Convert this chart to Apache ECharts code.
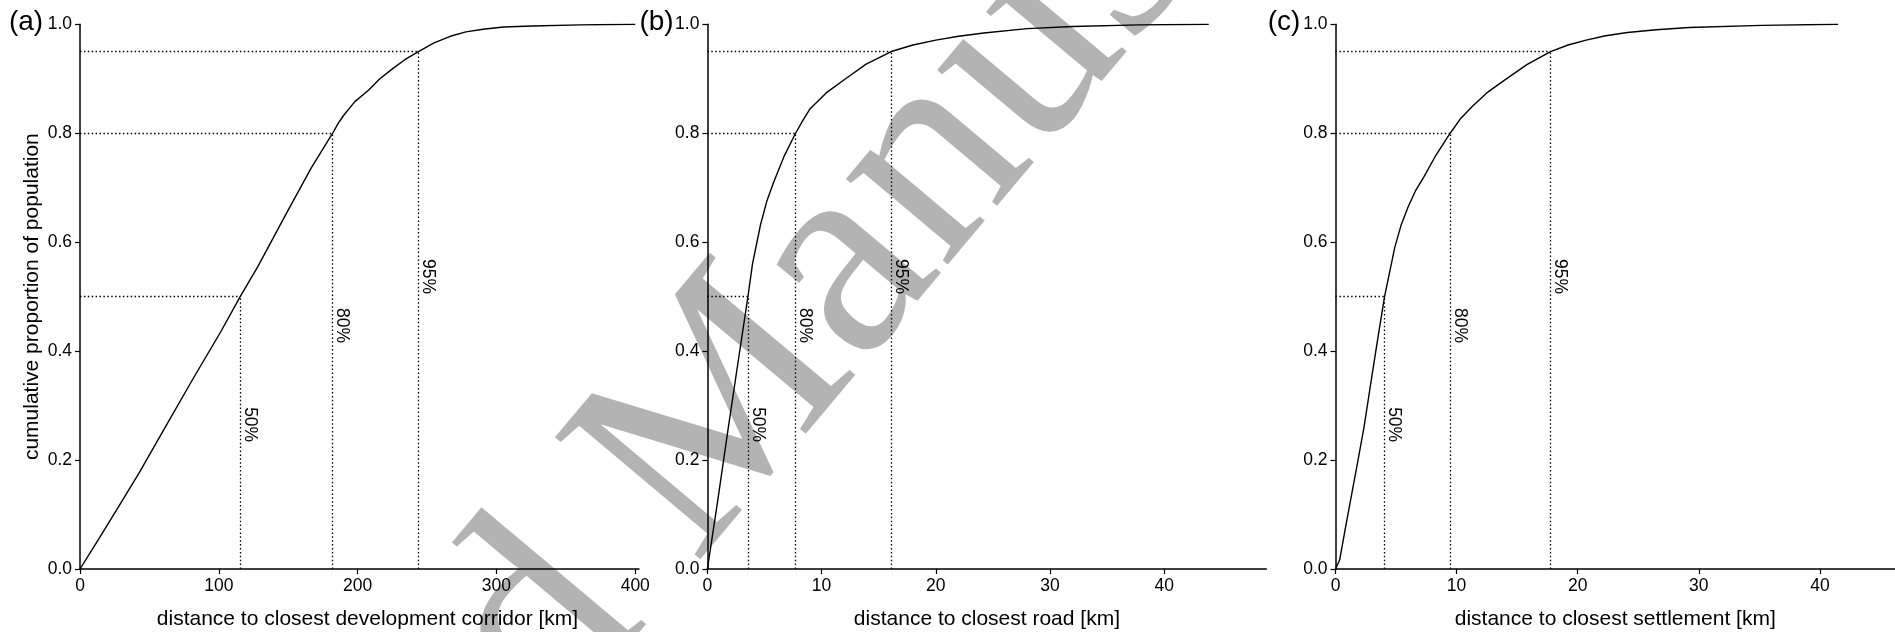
<!DOCTYPE html>
<html><head><meta charset="utf-8">
<script src="https://cdn.jsdelivr.net/npm/echarts@6/dist/echarts.min.js"></script>
<style>html,body{margin:0;padding:0;background:#fff}#c{width:1895px;height:632px}</style>
</head><body><div id="c"></div>
<script>
// ---- data ----
const yTicks = [0, 0.2, 0.4, 0.6, 0.8, 1.0];
const pctLevels = [0.5, 0.8, 0.95];
const pctLabels = ['50%', '80%', '95%'];
const pctLabelY = [0.265, 0.447, 0.537];

const corridorKm = [0, 13, 27.7, 42.5, 60.2, 80.9, 101.5, 115.4, 128.1, 148.7, 166.5, 182, 186, 190, 198, 207.8, 216, 225.5, 234, 243.8, 255, 266.8, 278, 290.4, 305, 325.8, 360, 400];
const corridorCum = [0, 0.053, 0.114, 0.176, 0.255, 0.347, 0.436, 0.5, 0.555, 0.653, 0.736, 0.8, 0.818, 0.833, 0.858, 0.879, 0.9, 0.919, 0.935, 0.95, 0.966, 0.978, 0.986, 0.991, 0.995, 0.997, 0.999, 1.0];
const corridorPct = [115.4, 182, 243.8];
const corridorTicks = [0, 100, 200, 300, 400];

const roadKm = [0, 0.9, 1.8, 2.65, 3.55, 3.95, 4.65, 5.2, 5.8, 6.7, 7.72, 8.4, 9, 10.4, 12.1, 13.9, 16.1, 18, 20, 22, 24.2, 28, 32, 37.8, 43.9];
const roadCum = [0, 0.125, 0.255, 0.375, 0.5, 0.56, 0.632, 0.675, 0.71, 0.757, 0.8, 0.825, 0.845, 0.874, 0.9, 0.927, 0.95, 0.962, 0.971, 0.978, 0.984, 0.992, 0.996, 0.999, 1.0];
const roadPct = [3.57, 7.72, 16.1];
const roadTicks = [0, 10, 20, 30, 40];

const settleKm = [0, 0.34, 0.84, 1.35, 1.86, 2.36, 2.87, 3.54, 4.05, 4.89, 5.4, 6, 6.6, 7.3, 8.3, 9.47, 10.3, 11.29, 12.6, 13.99, 15.8, 17.76, 19.2, 20.7, 22.3, 24.1, 26.5, 29.2, 35.2, 41.5];
const settleCum = [0, 0.0165, 0.078, 0.139, 0.2, 0.261, 0.335, 0.43, 0.5, 0.59, 0.63, 0.665, 0.694, 0.72, 0.76, 0.8, 0.826, 0.849, 0.876, 0.898, 0.926, 0.95, 0.962, 0.971, 0.979, 0.985, 0.99, 0.994, 0.998, 1.0];
const settlePct = [4.05, 9.47, 17.76];
const settleTicks = [0, 10, 20, 30, 40];

const panelTags = ['(a)', '(b)', '(c)'];
const xTitles = ['distance to closest development corridor [km]', 'distance to closest road [km]', 'distance to closest settlement [km]'];
const yTitle = 'cumulative proportion of population';

// ---- layout ----
const FONT = '"Liberation Sans", Arial, Helvetica, sans-serif';
const panels = [
  {x: corridorKm, y: corridorCum, pct: corridorPct, ticks: corridorTicks, max: 402.7, left: 80, width: 559, tagX: 26, titlePad: [0, 0, 0, 16]},
  {x: roadKm, y: roadCum, pct: roadPct, ticks: roadTicks, max: 48.95, left: 707.4, width: 559, tagX: 656.5, titlePad: [0, 0, 0, 0]},
  {x: settleKm, y: settleCum, pct: settlePct, ticks: settleTicks, max: 46.2, left: 1335.5, width: 559.5, tagX: 1284, titlePad: [0, 0, 0, 0]}
];

const grid = [], xAxis = [], yAxis = [], series = [], graphic = [];
const lineCol = '#000';

panels.forEach((p, i) => {
  grid.push({left: p.left, top: 24.3, width: p.width, height: 544.7, containLabel: false, outerBoundsMode: 'none'});
  xAxis.push({
    type: 'value', gridIndex: i, min: 0, max: p.max,
    name: xTitles[i], nameLocation: 'middle', nameGap: 40,
    nameTextStyle: {fontFamily: FONT, fontSize: 21, color: '#000', padding: p.titlePad},
    axisLine: {show: true, onZero: false, lineStyle: {color: lineCol, width: 1.5}},
    axisTick: {show: true, length: 5, inside: false, customValues: p.ticks, lineStyle: {color: lineCol, width: 1.2}},
    axisLabel: {show: true, customValues: p.ticks, margin: 8, fontFamily: FONT, fontSize: 17.5, color: '#000'},
    splitLine: {show: false}
  });
  yAxis.push({
    type: 'value', gridIndex: i, min: 0, max: 1,
    name: i === 0 ? yTitle : '', nameLocation: 'middle', nameGap: 37, nameRotate: 90,
    nameTextStyle: {fontFamily: FONT, fontSize: 21, color: '#000'},
    axisLine: {show: true, onZero: false, lineStyle: {color: lineCol, width: 1.5}},
    axisTick: {show: true, length: 5, inside: false, customValues: yTicks, lineStyle: {color: lineCol, width: 1.2}},
    axisLabel: {show: true, customValues: yTicks, margin: 8, fontFamily: FONT, fontSize: 17.5, color: '#000',
      formatter: v => Number(v).toFixed(1)},
    splitLine: {show: false}
  });
  const ml = [];
  p.pct.forEach((px, k) => {
    ml.push([{coord: [0, pctLevels[k]]}, {coord: [px, pctLevels[k]]}]);
    ml.push([{coord: [px, 0]}, {coord: [px, pctLevels[k]]}]);
  });
  series.push({
    type: 'line', xAxisIndex: i, yAxisIndex: i, z: 3,
    data: p.x.map((v, k) => [v, p.y[k]]),
    symbol: 'none', showSymbol: false, smooth: false,
    lineStyle: {color: '#000', width: 1.4},
    markLine: {silent: true, symbol: ['none', 'none'], label: {show: false}, animation: false,
      lineStyle: {color: '#000', width: 1.3, type: [1.5, 2.4]}, emphasis: {disabled: true}, data: ml}
  });
  series.push({
    type: 'custom', xAxisIndex: i, yAxisIndex: i, z: 4, silent: true,
    data: p.pct.map((px, k) => [px, pctLabelY[k]]),
    renderItem: (params, api) => {
      const c = api.coord([api.value(0), api.value(1)]);
      return {type: 'text', x: c[0] + 0.5, y: c[1], rotation: -Math.PI / 2,
        style: {text: pctLabels[params.dataIndex], align: 'center', verticalAlign: 'bottom',
          font: '17.5px ' + FONT, fill: '#000'}};
    }
  });
  graphic.push({type: 'text', x: p.tagX, y: 22, z: 5,
    style: {text: panelTags[i], font: '28px ' + FONT, fill: '#000', align: 'center', verticalAlign: 'middle'}});
});

// watermark of the source page
graphic.push({type: 'text', x: 686, y: 458, rotation: 50 * Math.PI / 180, z: -10, silent: true,
  style: {text: 'Accepted Manuscript', font: '290px "Liberation Serif", "Times New Roman", serif', fill: '#b3b3b3',
    align: 'center', verticalAlign: 'middle'}});

const chart = echarts.init(document.getElementById('c'), null, {renderer: 'canvas'});
chart.setOption({
  backgroundColor: '#fff', animation: false,
  textStyle: {fontFamily: FONT},
  grid, xAxis, yAxis, series, graphic
});
</script></body></html>
